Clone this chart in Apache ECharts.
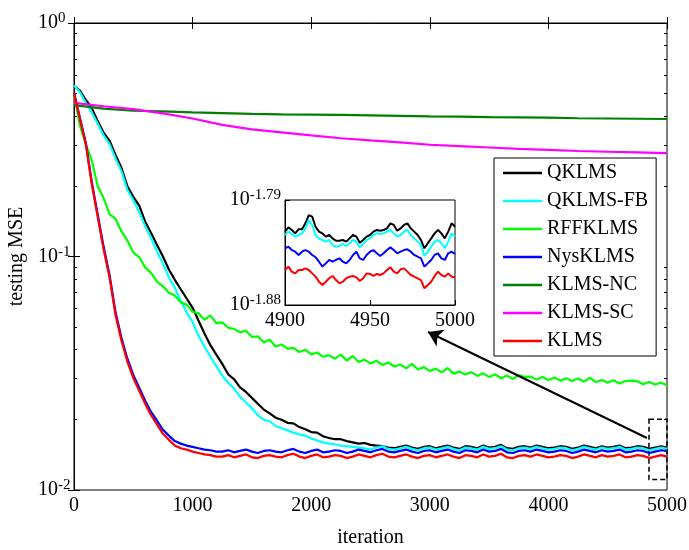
<!DOCTYPE html>
<html>
<head>
<meta charset="utf-8">
<script src="https://cdn.jsdelivr.net/npm/echarts@6/dist/echarts.min.js"></script>
<style>html,body{margin:0;padding:0;background:#fff}#c{width:689px;height:550px}</style>
</head>
<body>
<div id="c"></div>
<script>
// ---- data ----
const seriesNames = ['QKLMS','QKLMS-FB','RFFKLMS','NysKLMS','KLMS-NC','KLMS-SC','KLMS'];
const seriesColors = ['#000000','#00FFFF','#00FF00','#0000FF','#008000','#FF00FF','#FF0000'];

const iterMain = [0,50,100,150,200,250,300,350,400,450,500,550,600,650,700,750,800,850,900,950,1000,1050,1100,1150,1200,1250,1300,1350,1400,1450,1500,1550,1600,1650,1700,1750,1800,1850,1900,1950,2000,2050,2100,2150,2200,2250,2300,2350,2400,2450,2500,2550,2600,2650,2700,2750,2800,2850,2900,2950,3000,3050,3100,3150,3200,3250,3300,3350,3400,3450,3500,3550,3600,3650,3700,3750,3800,3850,3900,3950,4000,4050,4100,4150,4200,4250,4300,4350,4400,4450,4500,4550,4600,4650,4700,4750,4800,4850,4900,4950,5000];
const iterSlow = [0,250,500,750,1000,1250,1500,1750,2000,2250,2500,2750,3000,3250,3500,3750,4000,4250,4500,4750,5000];
const iterInset = [4900,4902,4904,4906,4908,4910,4912,4914,4916,4918,4920,4922,4924,4926,4928,4930,4932,4934,4936,4938,4940,4942,4944,4946,4948,4950,4952,4954,4956,4958,4960,4962,4964,4966,4968,4970,4972,4974,4976,4978,4980,4982,4984,4986,4988,4990,4992,4994,4996,4998,5000];

const qklms = [0.537,0.513,0.468,0.432,0.380,0.339,0.313,0.272,0.240,0.200,0.180,0.165,0.141,0.126,0.112,0.100,0.0880,0.0794,0.0724,0.0661,0.0603,0.0531,0.0468,0.0417,0.0380,0.0347,0.0313,0.0298,0.0275,0.0263,0.0248,0.0234,0.0221,0.0213,0.0204,0.0200,0.0194,0.0193,0.0186,0.0182,0.0177,0.0176,0.0170,0.0167,0.0165,0.0165,0.0162,0.0160,0.0158,0.0159,0.0156,0.0155,0.0154,
 0.0152,0.0151,0.0153,0.0155,0.0152,0.0150,0.0153,0.0154,0.0151,0.0153,0.0155,0.0152,0.0150,0.0154,0.0153,0.0151,0.0155,0.0152,0.0153,0.0156,0.0151,0.0150,0.0153,0.0154,0.0152,0.0155,0.0153,0.0151,0.0152,0.0154,0.0153,0.0150,0.0152,0.0155,0.0153,0.0151,0.0154,0.0152,0.0153,0.0155,0.0151,0.0152,0.0154,0.0153,0.0150,0.0152,0.0154,0.0152];
const qklmsFB = [0.540,0.505,0.455,0.414,0.370,0.330,0.303,0.263,0.232,0.193,0.174,0.155,0.135,0.120,0.105,0.0933,0.0813,0.0735,0.0646,0.0575,0.0525,0.0457,0.0412,0.0372,0.0339,0.0309,0.0288,0.0272,0.0251,0.0237,0.0224,0.0209,0.0200,0.0197,0.0188,0.0184,0.0180,0.0176,0.0173,0.0171,0.0166,0.0163,0.0160,0.0158,0.0157,0.0155,0.0154,0.0153,0.0152,
 0.0151,0.0149,0.0152,0.0154,0.0150,0.0149,0.0151,0.0153,0.0150,0.0148,0.0151,0.0152,0.0149,0.0151,0.0153,0.0150,0.0148,0.0152,0.0151,0.0149,0.0153,0.0150,0.0151,0.0154,0.0149,0.0148,0.0151,0.0152,0.0150,0.0153,0.0151,0.0149,0.0150,0.0152,0.0151,0.0148,0.0150,0.0153,0.0151,0.0149,0.0152,0.0150,0.0151,0.0153,0.0149,0.0150,0.0152,0.0151,0.0148,0.0150,0.0152,0.0150];
const rffklms = [0.500,0.363,0.302,0.258,0.200,0.178,0.152,0.145,0.128,0.117,0.104,0.0995,0.0898,0.0850,0.0781,0.0745,0.0700,0.0680,0.0636,0.0622,0.0580,0.0571,0.0536,0.0560,0.0518,0.0522,0.0495,0.0490,0.0473,0.0481,0.0452,0.0455,0.0428,0.0440,0.0412,0.0420,0.0403,0.0406,0.0390,0.0399,0.0381,0.0388,0.0372,0.0378,0.0365,0.0380,0.0358,0.0375,0.0353,0.0362,0.0348,0.0358,0.0343,0.0352,0.0338,0.0345,0.0332,0.0347,0.0328,0.0336,0.0323,
 0.0331,0.0319,0.0333,0.0315,0.0322,0.0312,0.0320,0.0308,0.0316,0.0305,0.0313,0.0301,0.0309,0.0299,0.0310,0.0305,0.0306,0.0297,0.0305,0.0296,0.0303,0.0294,0.0301,0.0293,0.0300,0.0291,0.0303,0.0290,0.0296,0.0288,0.0295,0.0286,0.0293,0.0294,0.0292,0.0284,0.0290,0.0283,0.0288,0.0281];
const nysklms = [0.503,0.392,0.306,0.208,0.151,0.110,0.0832,0.0578,0.0449,0.0365,0.0311,0.0274,0.0241,0.0216,0.0198,0.0181,0.0171,0.0162,0.0158,0.0155,0.0153,0.0151,0.0149,0.0148,0.0146,
 0.0146,0.0148,0.0145,0.0147,0.0149,0.0146,0.0144,0.0147,0.0148,0.0146,
 0.0145,0.0148,0.0150,0.0146,0.0144,0.0147,0.0149,0.0145,0.0146,0.0148,
 0.0147,0.0144,0.0146,0.0149,0.0147,0.0145,0.0148,0.0150,0.0146,0.0145,
 0.0147,0.0149,0.0146,0.0144,0.0147,0.0148,0.0145,0.0147,0.0149,0.0146,
 0.0144,0.0148,0.0147,0.0145,0.0149,0.0146,0.0147,0.0150,0.0145,0.0144,
 0.0147,0.0148,0.0146,0.0149,0.0147,0.0145,0.0146,0.0148,0.0147,0.0144,
 0.0146,0.0149,0.0147,0.0145,0.0148,0.0146,0.0147,0.0149,0.0145,0.0146,
 0.0148,0.0147,0.0144,0.0146,0.0148,0.0147];
const klmsNC = [0.445,0.430,0.421,0.418,0.414,0.411,0.408,0.406,0.405,0.404,0.402,0.400,0.398,0.397,0.395,0.394,0.393,0.391,0.390,0.389,0.388];
const klmsSC = [0.455,0.440,0.428,0.410,0.390,0.366,0.350,0.340,0.330,0.321,0.314,0.308,0.301,0.297,0.293,0.289,0.286,0.283,0.281,0.279,0.277];
const klms = [0.501,0.389,0.302,0.204,0.148,0.107,0.0813,0.0562,0.0437,0.0355,0.0302,0.0266,0.0234,0.0209,0.0191,0.0174,0.0164,0.0155,0.0151,0.0149,0.0146,0.0144,0.0142,0.0141,0.0139,
 0.0139,0.0141,0.0138,0.0140,0.0142,0.0138,0.0137,0.0140,0.0141,0.0139,
 0.0138,0.0141,0.0143,0.0139,0.0137,0.0140,0.0142,0.0138,0.0139,0.0141,
 0.0140,0.0137,0.0139,0.0142,0.0140,0.0138,0.0141,0.0143,0.0139,0.0138,
 0.0140,0.0142,0.0139,0.0137,0.0140,0.0141,0.0138,0.0140,0.0142,0.0139,
 0.0137,0.0141,0.0140,0.0138,0.0142,0.0139,0.0140,0.0143,0.0138,0.0137,
 0.0140,0.0141,0.0139,0.0142,0.0140,0.0138,0.0139,0.0141,0.0140,0.0137,
 0.0139,0.0142,0.0140,0.0138,0.0141,0.0139,0.0140,0.0142,0.0138,0.0139,
 0.0141,0.0140,0.0137,0.0139,0.0141,0.0139];

// inset: exponents (log10 of MSE), as labelled on the inset axis
const insetQKLMS = [-1.8171,-1.8134,-1.8157,-1.8186,-1.8151,-1.8151,-1.8100,-1.8029,-1.8043,-1.8129,-1.8171,-1.8186,-1.8214,-1.8200,-1.8229,-1.8249,-1.8249,-1.8243,-1.8257,-1.8229,-1.8200,-1.8214,-1.8266,-1.8243,-1.8214,-1.8200,-1.8171,-1.8157,-1.8163,-1.8157,-1.8143,-1.8100,-1.8114,-1.8163,-1.8143,-1.8114,-1.8100,-1.8143,-1.8171,-1.8200,-1.8243,-1.8314,-1.8271,-1.8229,-1.8186,-1.8157,-1.8186,-1.8229,-1.8171,-1.8100,-1.8129];
const insetQKLMSFB = [-1.8200,-1.8171,-1.8191,-1.8214,-1.8200,-1.8186,-1.8143,-1.8071,-1.8114,-1.8200,-1.8229,-1.8243,-1.8257,-1.8243,-1.8286,-1.8300,-1.8294,-1.8277,-1.8294,-1.8271,-1.8243,-1.8257,-1.8306,-1.8277,-1.8243,-1.8229,-1.8200,-1.8186,-1.8191,-1.8186,-1.8171,-1.8157,-1.8186,-1.8214,-1.8200,-1.8171,-1.8157,-1.8200,-1.8229,-1.8257,-1.8286,-1.8380,-1.8343,-1.8300,-1.8257,-1.8243,-1.8271,-1.8314,-1.8257,-1.8186,-1.8214];
const insetNysKLMS = [-1.8314,-1.8300,-1.8329,-1.8343,-1.8371,-1.8343,-1.8329,-1.8343,-1.8371,-1.8391,-1.8429,-1.8471,-1.8443,-1.8414,-1.8429,-1.8414,-1.8400,-1.8429,-1.8443,-1.8414,-1.8371,-1.8343,-1.8400,-1.8414,-1.8371,-1.8343,-1.8329,-1.8357,-1.8380,-1.8357,-1.8329,-1.8306,-1.8329,-1.8357,-1.8343,-1.8329,-1.8323,-1.8343,-1.8371,-1.8386,-1.8400,-1.8471,-1.8443,-1.8414,-1.8371,-1.8357,-1.8400,-1.8414,-1.8357,-1.8343,-1.8363];
const insetKLMS = [-1.8500,-1.8471,-1.8514,-1.8529,-1.8500,-1.8500,-1.8486,-1.8500,-1.8529,-1.8557,-1.8600,-1.8629,-1.8600,-1.8571,-1.8551,-1.8586,-1.8614,-1.8600,-1.8571,-1.8557,-1.8551,-1.8563,-1.8594,-1.8571,-1.8529,-1.8534,-1.8551,-1.8534,-1.8543,-1.8529,-1.8500,-1.8477,-1.8514,-1.8529,-1.8494,-1.8486,-1.8514,-1.8543,-1.8557,-1.8571,-1.8586,-1.8657,-1.8629,-1.8600,-1.8551,-1.8514,-1.8543,-1.8557,-1.8529,-1.8557,-1.8563];

const xTicksMain = [0,1000,2000,3000,4000,5000];
const yMinorValues = [0.02,0.03,0.04,0.05,0.06,0.07,0.08,0.09,0.2,0.3,0.4,0.5,0.6,0.7,0.8,0.9];
const xTicksInset = [4900,4950,5000];
const yTicksInset = [-1.88,-1.79];

// annotation (zoom box and arrow), in data units
const zoomBox = [[4848,0.0201],[5000,0.0111]];
const arrowFromTo = [[4831,0.0167],[2985,0.0475]];

// ---- chart ----
const FONT = "'Liberation Serif','Times New Roman',serif";
const chart = echarts.init(document.getElementById('c'), null, {renderer:'canvas'});
const pair = (xs, ys) => xs.map((x,i)=>[x, ys[i]]);
const black = '#000';
const lineAxis = {show:true, lineStyle:{color:black, width:1}};
const supRich = {
  b:{fontSize:20, fontFamily:FONT, color:black, lineHeight:24},
  s:{fontSize:15, fontFamily:FONT, color:black, verticalAlign:'top', lineHeight:15}
};

const mainData = [qklms, qklmsFB, rffklms, nysklms, null, null, klms];
const series = [];
seriesNames.forEach((nm, k) => {
  let data;
  if (nm === 'KLMS-NC') data = pair(iterSlow, klmsNC);
  else if (nm === 'KLMS-SC') data = pair(iterSlow, klmsSC);
  else data = pair(iterMain, mainData[k]);
  series.push({
    name: nm, type:'line', xAxisIndex:0, yAxisIndex:0, data,
    symbol:'none', showSymbol:false, animation:false,
    lineStyle:{color:seriesColors[k], width:2.2}, itemStyle:{color:seriesColors[k]}
  });
});
// annotation series
series.push({
  name:'annot', type:'line', xAxisIndex:0, yAxisIndex:0, data:[], symbol:'none', animation:false,
  markArea:{silent:true, label:{show:false},
    itemStyle:{color:'rgba(0,0,0,0)', borderColor:black, borderWidth:1.5, borderType:[5,3]},
    data:[[{coord:zoomBox[0]},{coord:zoomBox[1]}]]},
  markLine:{silent:true, symbol:['none','arrow'], symbolSize:14, label:{show:false},
    lineStyle:{color:black, width:2, type:'solid'}, itemStyle:{color:black},
    animation:false,
    data:[[{coord:arrowFromTo[0]},{coord:arrowFromTo[1]}]]}
});
// inset series
[[insetQKLMS,0],[insetQKLMSFB,1],[insetNysKLMS,3],[insetKLMS,6]].forEach(([arr,k]) => {
  series.push({
    name: seriesNames[k], type:'line', xAxisIndex:2, yAxisIndex:4, data: pair(iterInset, arr),
    symbol:'none', showSymbol:false, animation:false,
    lineStyle:{color:seriesColors[k], width:2}, itemStyle:{color:seriesColors[k]}
  });
});

const option = {
  backgroundColor:'#fff',
  animation:false,
  grid:[
    {left:74, top:23, width:593, height:467, show:true, borderColor:black, borderWidth:1, backgroundColor:'rgba(0,0,0,0)', outerBoundsMode:'none', containLabel:false},
    {left:285, top:200, width:170, height:105, show:true, borderColor:black, borderWidth:1, backgroundColor:'#fff', outerBoundsMode:'none', containLabel:false}
  ],
  legend:{
    orient:'vertical', left:494, top:158, padding:[5,8,5,9], itemGap:8,
    icon:'rect', itemWidth:39, itemHeight:2.5, backgroundColor:'#fff', borderColor:black, borderWidth:1, borderRadius:0,
    selectedMode:false, data:seriesNames,
    textStyle:{fontSize:20, fontFamily:FONT, color:black, lineHeight:20}
  },
  xAxis:[
    {gridIndex:0, type:'value', min:0, max:5000, interval:1000, position:'bottom',
     axisLine:lineAxis, axisTick:{inside:true, length:6, lineStyle:{color:black}, customValues:xTicksMain},
     axisLabel:{color:black, fontSize:20, fontFamily:FONT, margin:6, customValues:xTicksMain, formatter:v => String(v)}, splitLine:{show:false},
     name:'iteration', nameLocation:'middle', nameGap:38, nameTextStyle:{fontSize:20, fontFamily:FONT, color:black}},
    {gridIndex:0, type:'value', min:0, max:5000, interval:1000, position:'top',
     axisLine:lineAxis, axisTick:{inside:true, length:6, lineStyle:{color:black}}, axisLabel:{show:false}, splitLine:{show:false}},
    {gridIndex:1, type:'value', min:4900, max:5000, interval:50, position:'bottom',
     axisLine:lineAxis, axisTick:{inside:true, length:5, lineStyle:{color:black}, customValues:xTicksInset},
     axisLabel:{color:black, fontSize:20, fontFamily:FONT, margin:6, customValues:xTicksInset, formatter:v => String(v)}, splitLine:{show:false}}
  ],
  yAxis:[
    {gridIndex:0, type:'log', logBase:10, min:0.01, max:1, position:'left',
     axisLine:lineAxis, axisTick:{inside:true, length:6, lineStyle:{color:black}},
     axisLabel:{margin:36, align:'left', formatter:v => '{b|10}{s|' + Math.round(Math.log10(v)) + '}', rich:supRich},
     splitLine:{show:false}, minorTick:{show:false},
     name:'testing MSE', nameLocation:'middle', nameGap:43, nameRotate:90,
     nameTextStyle:{fontSize:20, fontFamily:FONT, color:black}},
    {gridIndex:0, type:'log', logBase:10, min:0.01, max:1, position:'right',
     axisLine:lineAxis, axisTick:{inside:true, length:6, lineStyle:{color:black}}, axisLabel:{show:false}, splitLine:{show:false}},
    {gridIndex:0, type:'value', min:-2, max:0, position:'left',
     axisLine:{show:false}, axisTick:{inside:true, length:3, lineStyle:{color:black}, customValues:yMinorValues.map(Math.log10)},
     axisLabel:{show:false}, splitLine:{show:false}},
    {gridIndex:0, type:'value', min:-2, max:0, position:'right',
     axisLine:{show:false}, axisTick:{inside:true, length:3, lineStyle:{color:black}, customValues:yMinorValues.map(Math.log10)},
     axisLabel:{show:false}, splitLine:{show:false}},
    {gridIndex:1, type:'value', min:-1.88, max:-1.79, interval:0.09, position:'left',
     axisLine:lineAxis, axisTick:{inside:true, length:5, lineStyle:{color:black}, customValues:yTicksInset},
     axisLabel:{margin:4, customValues:yTicksInset, formatter:v => '{b|10}{s|' + Number(v).toFixed(2) + '}', rich:supRich},
     splitLine:{show:false}}
  ],
  series
};
chart.setOption(option);
</script>
</body>
</html>
